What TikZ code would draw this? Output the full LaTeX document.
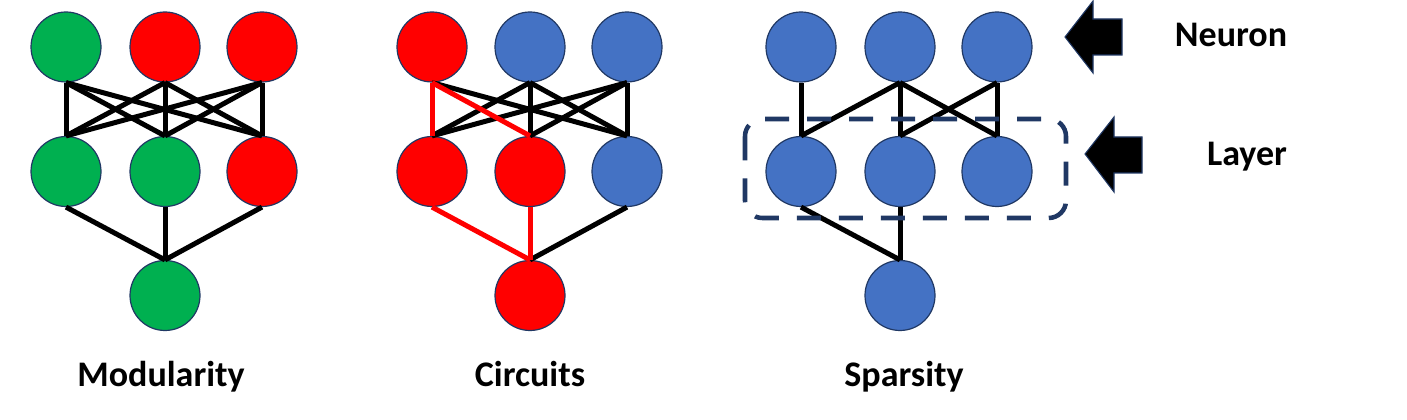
\documentclass[tikz,border=0pt]{standalone}
\usepackage{fontspec}
\setmainfont{Carlito}
\definecolor{ngreen}{HTML}{00B050}
\definecolor{nred}{HTML}{FF0000}
\definecolor{nblue}{HTML}{4472C4}
\definecolor{navy}{HTML}{203864}
\tikzset{
  neuron/.style={circle, minimum size=52.5pt, inner sep=0pt, draw=navy, line width=0.9pt},
  gn/.style={neuron, fill=ngreen},
  rn/.style={neuron, fill=nred},
  bn/.style={neuron, fill=nblue},
  wire/.style={line width=3.75pt, black},
  redwire/.style={line width=3.75pt, nred},
  lbl/.style={anchor=base, inner sep=0pt, font=\fontsize{27}{32}\selectfont\bfseries},
  blockarrow/.style={fill=black, draw=navy, line width=0.8pt, line join=miter},
  layerbox/.style={draw=navy, line width=3.4pt, dash pattern=on 18pt off 13.5pt, rounded corners=13pt}
}
\begin{document}
\begin{tikzpicture}[x=0.75pt, y=-0.75pt]
\useasboundingbox (0,0) rectangle (1407,420);
% ---- Modularity ----
\node[gn] (a1) at (66,47) {};
\node[rn] (a2) at (165,47) {};
\node[rn] (a3) at (262,47) {};
\node[gn] (b1) at (66,171.5) {};
\node[gn] (b2) at (165,171.5) {};
\node[rn] (b3) at (262,171.5) {};
\node[gn] (c1) at (165,295.5) {};
\foreach \i in {1,2,3}{\foreach \j in {1,2,3}{\draw[wire] (a\i.south) -- (b\j.north);}}
\foreach \j in {1,2,3}{\draw[wire] (b\j.south) -- (c1.north);}
% ---- Circuits ----
\node[rn] (d1) at (432,47) {};
\node[bn] (d2) at (530,47) {};
\node[bn] (d3) at (627,47) {};
\node[rn] (e1) at (432,171.5) {};
\node[rn] (e2) at (530,171.5) {};
\node[bn] (e3) at (627,171.5) {};
\node[rn] (f1) at (530,295.5) {};
\draw[wire] (d1.south) -- (e3.north);
\foreach \i in {2,3}{\foreach \j in {1,2,3}{\draw[wire] (d\i.south) -- (e\j.north);}}
\draw[wire] (e3.south) -- (f1.north);
\draw[redwire] (d1.south) -- (e1.north);
\draw[redwire] (d1.south) -- (e2.north);
\draw[redwire] (e1.south) -- (f1.north);
\draw[redwire] (e2.south) -- (f1.north);
% ---- Sparsity ----
\node[bn] (g1) at (801,47) {};
\node[bn] (g2) at (900,47) {};
\node[bn] (g3) at (997,47) {};
\node[bn] (h1) at (801,171.5) {};
\node[bn] (h2) at (900,171.5) {};
\node[bn] (h3) at (997,171.5) {};
\node[bn] (k1) at (900,295.5) {};
\draw[wire] (g1.south) -- (h1.north);
\draw[wire] (g2.south) -- (h1.north);
\draw[wire] (g2.south) -- (h2.north);
\draw[wire] (g2.south) -- (h3.north);
\draw[wire] (g3.south) -- (h2.north);
\draw[wire] (g3.south) -- (h3.north);
\draw[wire] (h1.south) -- (k1.north);
\draw[wire] (h2.south) -- (k1.north);
\draw[layerbox] (745,119) rectangle (1066,218);
% ---- arrows ----
\draw[blockarrow] (1065,37) -- (1093,1) -- (1093,19) -- (1122,19) -- (1122,55) -- (1093,55) -- (1093,73) -- cycle;
\draw[blockarrow] (1085,154) -- (1114,117) -- (1114,137) -- (1142,137) -- (1142,173) -- (1114,173) -- (1114,192) -- cycle;
% ---- labels ----
\node[lbl] (neuron) at (1231,47) {Neuron};
\node[lbl] (layer) at (1247,166) {Layer};
\node[lbl] (mod) at (161,387) {Modularity};
\node[lbl] (circ) at (530,387) {Circuits};
\node[lbl] (spar) at (904,387) {Sparsity};
\end{tikzpicture}
\end{document}
